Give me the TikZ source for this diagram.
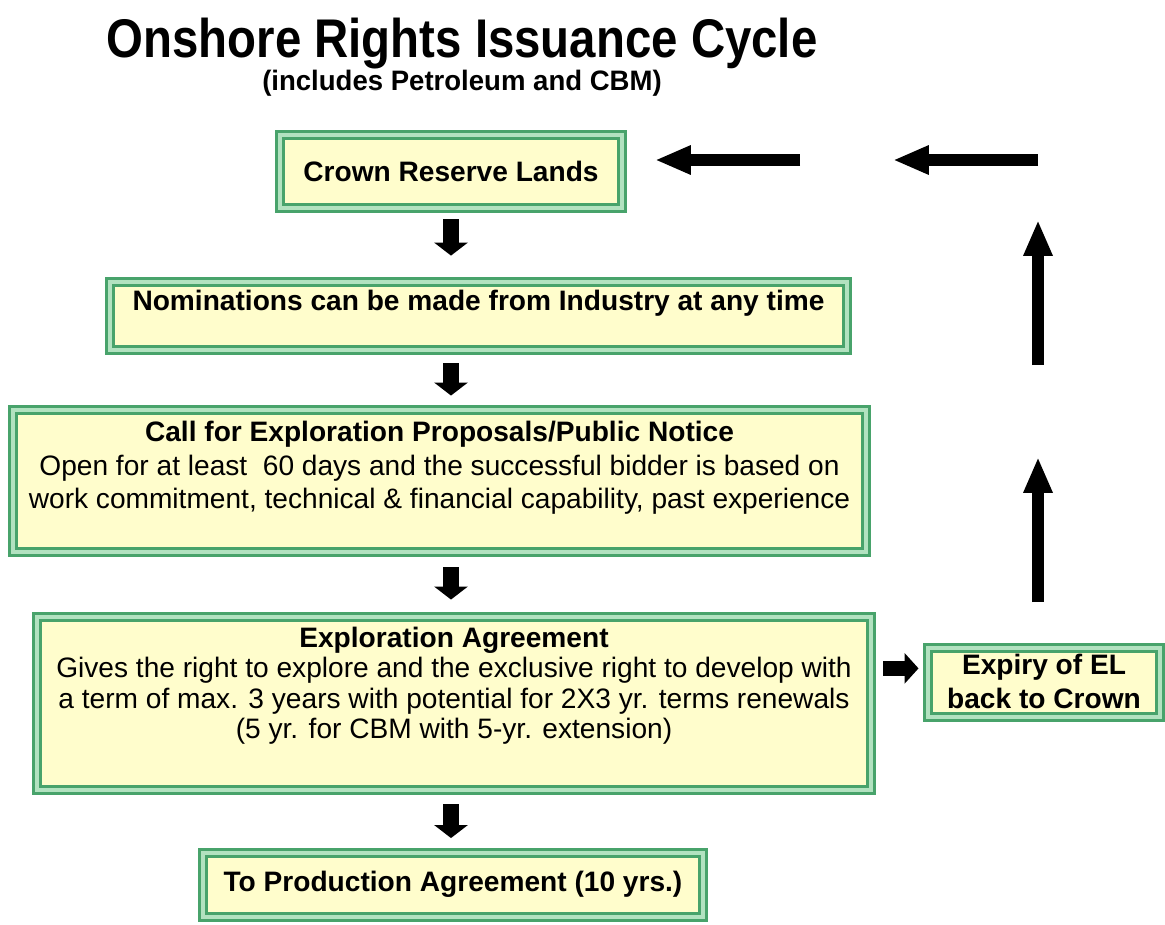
\documentclass[tikz,border=0pt]{standalone}
\usepackage{fontspec}
\setmainfont{Liberation Sans}
\usetikzlibrary{arrows.meta}
\newdimen\pxu
\pxu=0.02cm
\definecolor{framegreen}{HTML}{48A36B}
\definecolor{bandgreen}{HTML}{B2E2C0}
\definecolor{boxyellow}{HTML}{FFFDCC}
\newcommand{\boxlines}[2]{\raisebox{#1}[0pt][0pt]{\begin{tabular}{@{}c@{}}#2\end{tabular}}}
\tikzstyle{stage}=[draw=framegreen, double=bandgreen, double distance=4\pxu, line width=3\pxu,
                   fill=boxyellow, inner sep=0, font=\fontsize{16}{19}\selectfont]
\tikzstyle{downarrow}=[line width=9.07pt, -{Triangle[length=7.37pt, width=18.71pt]}]
\tikzstyle{sidearrow}=[line width=8.5pt, -{Triangle[length=7.94pt, width=17pt]}]
\tikzstyle{blockarrow}=[line width=7.37pt, -{Triangle[length=20.41pt, width=15.31pt]}]

\begin{document}
\begin{tikzpicture}[x=\pxu, y=-\pxu]
        \useasboundingbox[fill=white] (0,0) rectangle (1165,924);
        % heading
        \node[anchor=base, font=\bfseries\fontsize{31}{36}\selectfont] (title) at (462,57)
            {\scalebox{0.87}[1]{Onshore Rights Issuance Cycle}};
        \node[anchor=base, font=\bfseries\fontsize{16}{19}\selectfont] (subtitle) at (462,90)
            {\scalebox{0.98}[1]{(includes Petroleum and CBM)}};
        % stages
        \node[stage, minimum width=342\pxu, minimum height=73\pxu] (crown) at (451,171.5)
            {\bfseries Crown Reserve Lands};
        \node[stage, minimum width=737\pxu, minimum height=68\pxu] (nom) at (478.5,316)
            {\boxlines{5\pxu}{\bfseries Nominations can be made from Industry at any time}};
        \node[stage, minimum width=853\pxu, minimum height=142\pxu] (call) at (439.5,481)
            {\boxlines{5\pxu}{\bfseries Call for Exploration Proposals/Public Notice\\
             Open for at least\ \ 60 days and the successful bidder is based on\\
             work commitment, technical \& financial capability, past experience}};
        \node[stage, minimum width=834\pxu, minimum height=173\pxu,
              font=\fontsize{16}{17.4}\selectfont] (expl) at (454,703.5)
            {\boxlines{9\pxu}{\bfseries Exploration Agreement\\
             Gives the right to explore and the exclusive right to develop with\\
             a term of max. 3 years with potential for 2X3 yr. terms renewals\\
             (5 yr. for CBM with 5-yr. extension)}};
        \node[stage, minimum width=232\pxu, minimum height=69\pxu] (expiry) at (1044,682.5)
            {\boxlines{-10\pxu}{\bfseries Expiry of EL\\ \bfseries back to Crown}};
        \node[stage, minimum width=500\pxu, minimum height=64\pxu] (prod) at (453,884.5)
            {\bfseries To Production Agreement (10 yrs.)};
        % main flow
        \draw[downarrow, shorten <=5.67pt, shorten >=14.17pt] (crown.south) -- (crown.south |- nom.north);
        \draw[downarrow, shorten <=6.8pt, shorten >=7.37pt] (crown.south |- nom.south) -- (crown.south |- call.north);
        \draw[downarrow, shorten <=7.94pt, shorten >=9.07pt] (crown.south |- call.south) -- (crown.south |- expl.north);
        \draw[downarrow, shorten <=7.37pt, shorten >=7.37pt] (crown.south |- expl.south) -- (crown.south |- prod.north);
        \draw[sidearrow, shorten <=6.24pt, shorten >=4.54pt] ([yshift=20pt]expl.east) -- ([yshift=20pt]expl.east -| expiry.west);
        % way back to the crown
        \coordinate (riseA) at (1038,602);
        \coordinate (riseAtop) at (1038,457);
        \coordinate (riseB) at (1038,365);
        \coordinate (riseBtop) at (1038,220);
        \coordinate (turn) at (1038,160);
        \coordinate (backA) at (800,160);
        \coordinate (backAtip) at (655,160);
        \draw[blockarrow] (riseA) -- (riseAtop);
        \draw[blockarrow] (riseB) -- (riseBtop);
        \draw[blockarrow] (turn) -- (893,160);
        \draw[blockarrow] (backA) -- (backAtip);
\end{tikzpicture}
\end{document}
